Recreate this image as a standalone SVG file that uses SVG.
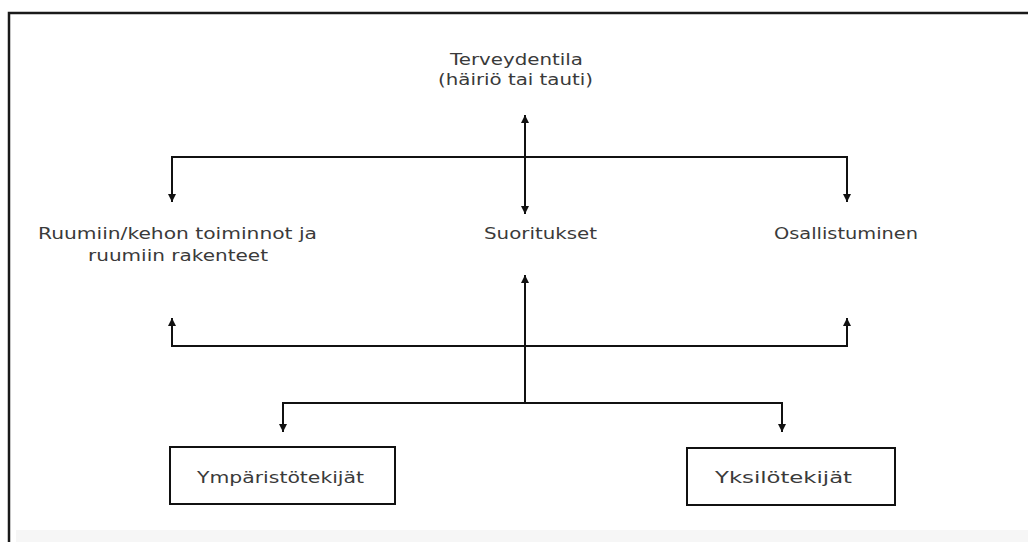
<svg xmlns="http://www.w3.org/2000/svg" width="1028" height="542" viewBox="0 0 1028 542">
<style>
.t{font-family:"DejaVu Sans","Liberation Sans",sans-serif;font-size:16px;fill:#3a3a3a;}
.ln{stroke:#111;stroke-width:2;fill:none;}
.bx{stroke:#111;stroke-width:2;fill:#fff;}
</style>
<defs>
<marker id="ah" viewBox="0 0 10 10" refX="10" refY="5" markerWidth="9" markerHeight="8" markerUnits="userSpaceOnUse" orient="auto">
<path d="M0,0 L10,5 L0,10 z" fill="#111"/>
</marker>
</defs>
<rect x="0" y="0" width="1028" height="542" fill="#fff"/>
<rect x="16" y="530" width="1012" height="12" fill="#f6f6f6"/>
<path d="M9,542 V13 H1028" stroke="#1a1a1a" stroke-width="2.5" fill="none"/>
<g id="connectors">
<path class="ln" d="M525,157 V115" marker-end="url(#ah)"/>
<path class="ln" d="M525,157 V214" marker-end="url(#ah)"/>
<path class="ln" d="M525,157 H172 V202" marker-end="url(#ah)"/>
<path class="ln" d="M525,157 H847 V202" marker-end="url(#ah)"/>
<path class="ln" d="M525,346 V275" marker-end="url(#ah)"/>
<path class="ln" d="M525,346 H172 V318" marker-end="url(#ah)"/>
<path class="ln" d="M525,346 H847 V318" marker-end="url(#ah)"/>
<path class="ln" d="M525,346 V403"/>
<path class="ln" d="M525,403 H283 V432" marker-end="url(#ah)"/>
<path class="ln" d="M525,403 H782 V432" marker-end="url(#ah)"/>
</g>
<g id="terveydentila">
<text class="t" x="450" y="65" textLength="133" lengthAdjust="spacingAndGlyphs">Terveydentila</text>
<text class="t" x="438" y="85" textLength="155" lengthAdjust="spacingAndGlyphs">(häiriö tai tauti)</text>
</g>
<g id="ruumiin">
<text class="t" x="38" y="239" textLength="279" lengthAdjust="spacingAndGlyphs">Ruumiin/kehon toiminnot ja</text>
<text class="t" x="88" y="261" textLength="180" lengthAdjust="spacingAndGlyphs">ruumiin rakenteet</text>
</g>
<g id="suoritukset">
<text class="t" x="484" y="239" textLength="113" lengthAdjust="spacingAndGlyphs">Suoritukset</text>
</g>
<g id="osallistuminen">
<text class="t" x="774" y="239" textLength="144" lengthAdjust="spacingAndGlyphs">Osallistuminen</text>
</g>
<g id="ymparistotekijat">
<rect class="bx" x="170" y="447" width="225" height="57"/>
<text class="t" x="197" y="483" textLength="167" lengthAdjust="spacingAndGlyphs">Ympäristötekijät</text>
</g>
<g id="yksilotekijat">
<rect class="bx" x="687" y="448" width="208" height="57"/>
<text class="t" x="715" y="483" textLength="137" lengthAdjust="spacingAndGlyphs">Yksilötekijät</text>
</g>
</svg>
